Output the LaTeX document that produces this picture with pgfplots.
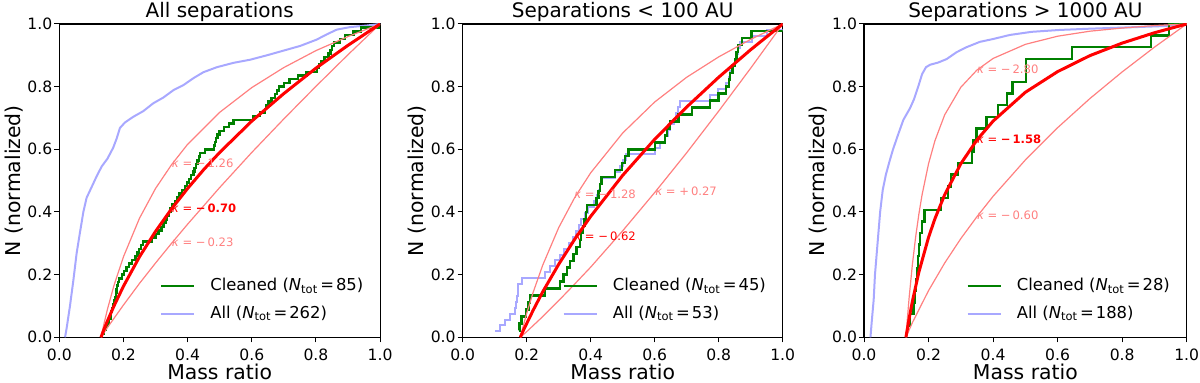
\documentclass[border=0pt]{standalone}
\usepackage{fontspec}
\setmainfont{DejaVu Sans}
\usepackage{pgfplots}
\pgfplotsset{compat=1.18}
\definecolor{mplgreen}{HTML}{008000}
\definecolor{allblue}{HTML}{A8A8FF}
\definecolor{lightred}{HTML}{FF8080}
\pgfplotsset{
  every axis title shift=0pt,
  panel/.style={
    height=156.65pt, scale only axis,
    xmin=0, xmax=1, ymin=0, ymax=1,
    xtick={0,0.2,0.4,0.6,0.8,1.0}, ytick={0,0.2,0.4,0.6,0.8,1.0},
    tick align=outside, tick pos=left,
    major tick length=2.5pt,
    tick style={black, line width=0.5pt},
    axis line style={black, line width=0.6pt},
    /pgf/number format/fixed, /pgf/number format/fixed zerofill,
    /pgf/number format/precision=1, /pgf/number format/assume math mode=true,
    ticklabel style={font=\fontsize{7.8}{9}\selectfont},
    yticklabel style={xshift=2.5pt},
    xlabel={Mass ratio}, ylabel={N (normalized)},
    label style={font=\fontsize{10.2}{12}\selectfont},
    xlabel style={at={(axis description cs:0.5,-0.111)}, anchor=center},
    ylabel style={at={(axis description cs:-0.141,0.5)}, anchor=center},
    title style={font=\fontsize{10}{12}\selectfont, at={(axis description cs:0.5,1.021)}, anchor=base, inner sep=0pt},
    legend style={at={(axis description cs:0.98,0.024)}, anchor=south east, draw=none, fill=none,
      font=\fontsize{8.2}{9.6}\selectfont, row sep=2pt, column sep=5.5pt},
    legend cell align=left,
    legend image code/.code={\draw[#1] (0pt,0pt) -- (16.5pt,0pt);},
  },
  greenline/.style={mplgreen, line width=1.2pt, const plot},
  blueline/.style={allblue, line width=1.0pt},
  fitline/.style={red, line width=1.5pt},
  errline/.style={lightred, line width=0.6pt},
}
\newcommand{\klab}[1]{\fontsize{5.8}{7}\selectfont{\itshape κ} = #1}
\newcommand{\ntot}[1]{{\itshape N}\textsubscript{tot}\kern1pt=\kern1pt#1}
\begin{document}
\begin{tikzpicture}
\path[use as bounding box] (-29.65pt,-22.85pt) rectangle (570.35pt,168.65pt);
% ---------------- Panel 1 ----------------
\begin{axis}[panel, width=160.4pt, at={(0pt,0pt)}, anchor=south west, title={All separations}]
\addlegendimage{mplgreen, line width=1.2pt}\addlegendentry{Cleaned (\ntot{85})}
\addlegendimage{allblue, line width=1.0pt}\addlegendentry{All (\ntot{262})}
\addplot[blueline, forget plot] coordinates {(0.018,0) (0.023,0.03) (0.033,0.098) (0.044,0.183) (0.054,0.268) (0.064,0.332) (0.075,0.40) (0.085,0.445) (0.101,0.480) (0.116,0.513) (0.132,0.545) (0.150,0.57) (0.168,0.605) (0.179,0.635) (0.189,0.668) (0.205,0.686) (0.231,0.704) (0.262,0.722) (0.293,0.747) (0.324,0.765) (0.356,0.789) (0.387,0.805) (0.418,0.827) (0.449,0.846) (0.491,0.862) (0.543,0.876) (0.595,0.886) (0.647,0.900) (0.699,0.915) (0.751,0.930) (0.802,0.950) (0.834,0.967) (0.865,0.982) (0.906,0.990) (0.958,0.995) (1,1)};
\addplot[greenline, forget plot] coordinates {(0.132,0.0118) (0.140,0.0235) (0.145,0.0353) (0.150,0.0471) (0.155,0.0588) (0.159,0.0706) (0.162,0.0824) (0.165,0.0941) (0.168,0.1059) (0.171,0.1176) (0.174,0.1294) (0.176,0.1412) (0.178,0.1529) (0.180,0.1647) (0.183,0.1765) (0.187,0.1882) (0.195,0.2) (0.202,0.2118) (0.209,0.2235) (0.217,0.2353) (0.226,0.2471) (0.237,0.2588) (0.244,0.2706) (0.249,0.2824) (0.255,0.2941) (0.260,0.3059) (0.287,0.3176) (0.300,0.3294) (0.309,0.3412) (0.319,0.3529) (0.325,0.3647) (0.331,0.3765) (0.336,0.3882) (0.342,0.4) (0.347,0.4118) (0.353,0.4235) (0.361,0.4353) (0.368,0.4471) (0.375,0.4588) (0.383,0.4706) (0.391,0.4824) (0.398,0.4941) (0.405,0.5059) (0.411,0.5176) (0.418,0.5294) (0.422,0.5412) (0.427,0.5529) (0.431,0.5647) (0.435,0.5765) (0.439,0.5882) (0.455,0.6) (0.482,0.6118) (0.485,0.6235) (0.489,0.6353) (0.493,0.6471) (0.500,0.6588) (0.514,0.6706) (0.529,0.6824) (0.543,0.6941) (0.603,0.7059) (0.625,0.7176) (0.641,0.7294) (0.645,0.7412) (0.652,0.7529) (0.662,0.7647) (0.672,0.7765) (0.678,0.7882) (0.685,0.8) (0.701,0.8118) (0.717,0.8235) (0.745,0.8353) (0.770,0.8471) (0.803,0.8588) (0.810,0.8706) (0.816,0.8824) (0.827,0.8941) (0.839,0.9059) (0.845,0.9176) (0.850,0.9294) (0.856,0.9412) (0.875,0.9529) (0.891,0.9647) (0.917,0.9765) (0.940,0.9882) (1.0,1.0)};
\addplot[errline, forget plot] coordinates {(0.13,0) (0.14,0.046) (0.15,0.089) (0.17,0.164) (0.2,0.257) (0.25,0.380) (0.3,0.475) (0.35,0.551) (0.4,0.616) (0.5,0.718) (0.6,0.797) (0.7,0.861) (0.8,0.915) (0.9,0.960) (1,1)};
\addplot[errline, forget plot] coordinates {(0.13,0) (0.15,0.031) (0.2,0.103) (0.25,0.172) (0.3,0.237) (0.35,0.300) (0.4,0.361) (0.5,0.478) (0.6,0.590) (0.7,0.697) (0.8,0.801) (0.9,0.902) (1,1)};
\addplot[fitline, forget plot] coordinates {(0.13,0) (0.14,0.027) (0.15,0.052) (0.17,0.099) (0.2,0.163) (0.25,0.257) (0.3,0.338) (0.35,0.410) (0.4,0.475) (0.45,0.535) (0.5,0.590) (0.6,0.690) (0.7,0.778) (0.8,0.859) (0.9,0.932) (1,1)};
\node[anchor=west, text=lightred, inner sep=0pt] at (axis cs:0.35,0.555) {\klab{−\,1.26}};
\node[anchor=west, text=red, inner sep=0pt] at (axis cs:0.35,0.412) {\klab{\bfseries −\,0.70}};
\node[anchor=west, text=lightred, inner sep=0pt] at (axis cs:0.35,0.302) {\klab{−\,0.23}};
\end{axis}
% ---------------- Panel 2 ----------------
\begin{axis}[panel, width=160pt, at={(201.7pt,0pt)}, anchor=south west, title={Separations < 100 AU}]
\addlegendimage{mplgreen, line width=1.2pt}\addlegendentry{Cleaned (\ntot{45})}
\addlegendimage{allblue, line width=1.0pt}\addlegendentry{All (\ntot{53})}
\addplot[blueline, const plot, forget plot] coordinates {(0.101,0.0189) (0.117,0.0377) (0.132,0.0566) (0.148,0.0755) (0.163,0.0943) (0.167,0.1132) (0.169,0.1321) (0.172,0.1509) (0.174,0.1698) (0.184,0.1887) (0.257,0.2075) (0.273,0.2264) (0.289,0.2453) (0.304,0.2642) (0.318,0.2830) (0.332,0.3019) (0.346,0.3208) (0.355,0.3396) (0.362,0.3585) (0.370,0.3774) (0.382,0.3962) (0.393,0.4151) (0.410,0.4340) (0.419,0.4528) (0.425,0.4717) (0.429,0.4906) (0.432,0.5094) (0.476,0.5283) (0.490,0.5472) (0.500,0.5660) (0.510,0.5849) (0.601,0.6038) (0.615,0.6226) (0.632,0.6415) (0.640,0.6604) (0.648,0.6792) (0.660,0.6981) (0.668,0.7170) (0.674,0.7358) (0.679,0.7547) (0.773,0.7736) (0.799,0.7925) (0.822,0.8113) (0.832,0.8302) (0.835,0.8491) (0.843,0.8679) (0.851,0.8868) (0.856,0.9057) (0.860,0.9245) (0.866,0.9434) (0.904,0.9623) (0.950,0.9811) (1.0,0.9811)};
\addplot[greenline, forget plot] coordinates {(0.177,0.0222) (0.178,0.0444) (0.184,0.0667) (0.198,0.0889) (0.205,0.1111) (0.211,0.1333) (0.257,0.1556) (0.304,0.1778) (0.3145,0.2) (0.325,0.2222) (0.335,0.2444) (0.346,0.2667) (0.356,0.2889) (0.367,0.3111) (0.370,0.3333) (0.375,0.3556) (0.381,0.3778) (0.386,0.4) (0.388,0.4222) (0.418,0.4444) (0.424,0.4667) (0.429,0.4889) (0.434,0.5111) (0.476,0.5333) (0.497,0.5556) (0.507,0.5778) (0.518,0.6) (0.601,0.6222) (0.632,0.6444) (0.638,0.6667) (0.648,0.6889) (0.674,0.7111) (0.716,0.7333) (0.773,0.7556) (0.799,0.7778) (0.822,0.8) (0.832,0.8222) (0.835,0.8444) (0.843,0.8667) (0.851,0.8889) (0.856,0.9111) (0.860,0.9333) (0.872,0.9556) (0.903,0.9778) (1.0,0.9778)};
\addplot[errline, forget plot] coordinates {(0.18,0) (0.19,0.039) (0.2,0.076) (0.22,0.143) (0.25,0.230) (0.3,0.350) (0.35,0.446) (0.4,0.525) (0.5,0.652) (0.6,0.751) (0.7,0.830) (0.8,0.895) (0.9,0.951) (1,1)};
\addplot[errline, forget plot] coordinates {(0.18,0) (0.2,0.018) (0.25,0.066) (0.3,0.117) (0.35,0.170) (0.4,0.224) (0.5,0.340) (0.6,0.462) (0.7,0.589) (0.8,0.722) (0.9,0.859) (1,1)};
\addplot[fitline, forget plot] coordinates {(0.18,0) (0.19,0.023) (0.2,0.044) (0.22,0.086) (0.25,0.145) (0.3,0.233) (0.35,0.313) (0.4,0.386) (0.5,0.517) (0.6,0.632) (0.7,0.735) (0.8,0.830) (0.9,0.918) (1,1)};
\node[anchor=west, text=lightred, inner sep=0pt] at (axis cs:0.348,0.456) {\klab{−\,1.28}};
\node[anchor=west, text=red, inner sep=0pt] at (axis cs:0.348,0.321) {\klab{−\,0.62}};
\node[anchor=west, text=lightred, inner sep=0pt] at (axis cs:0.601,0.465) {\klab{+\,0.27}};
\end{axis}
% ---------------- Panel 3 ----------------
\begin{axis}[panel, width=161.35pt, at={(402.35pt,0pt)}, anchor=south west, title={Separations > 1000 AU}]
\addlegendimage{mplgreen, line width=1.2pt}\addlegendentry{Cleaned (\ntot{28})}
\addlegendimage{allblue, line width=1.0pt}\addlegendentry{All (\ntot{188})}
\addplot[blueline, forget plot] coordinates {(0.020,0) (0.024,0.05) (0.030,0.12) (0.034,0.2) (0.042,0.30) (0.050,0.40) (0.058,0.47) (0.068,0.52) (0.080,0.565) (0.090,0.60) (0.105,0.645) (0.122,0.694) (0.1425,0.731) (0.155,0.76) (0.168,0.80) (0.180,0.84) (0.192,0.862) (0.205,0.870) (0.230,0.877) (0.256,0.888) (0.287,0.910) (0.318,0.926) (0.359,0.943) (0.40,0.952) (0.452,0.965) (0.52,0.975) (0.607,0.981) (0.70,0.985) (0.814,0.989) (0.946,0.994) (1.0,1.0)};
\addplot[greenline, forget plot] coordinates {(0.134,0.037) (0.1425,0.074) (0.153,0.111) (0.158,0.148) (0.161,0.185) (0.165,0.222) (0.168,0.259) (0.171,0.296) (0.174,0.333) (0.180,0.370) (0.187,0.407) (0.238,0.444) (0.261,0.481) (0.269,0.519) (0.292,0.556) (0.334,0.593) (0.339,0.630) (0.349,0.667) (0.380,0.704) (0.416,0.741) (0.444,0.778) (0.460,0.815) (0.502,0.889) (0.644,0.926) (0.889,0.963) (0.946,1.0) (1.0,1.0)};
\addplot[errline, forget plot] coordinates {(0.13,0) (0.135,0.067) (0.14,0.128) (0.15,0.233) (0.16,0.320) (0.17,0.393) (0.18,0.455) (0.2,0.554) (0.22,0.628) (0.25,0.710) (0.3,0.798) (0.35,0.853) (0.4,0.890) (0.5,0.935) (0.6,0.961) (0.7,0.977) (0.8,0.987) (0.9,0.995) (1,1)};
\addplot[errline, forget plot] coordinates {(0.13,0) (0.15,0.047) (0.2,0.149) (0.25,0.237) (0.3,0.315) (0.35,0.385) (0.4,0.450) (0.5,0.566) (0.6,0.669) (0.7,0.762) (0.8,0.847) (0.9,0.926) (1,1)};
\addplot[fitline, forget plot] coordinates {(0.13,0) (0.14,0.061) (0.15,0.115) (0.17,0.208) (0.2,0.319) (0.22,0.379) (0.25,0.455) (0.3,0.554) (0.35,0.630) (0.4,0.690) (0.5,0.782) (0.6,0.848) (0.7,0.899) (0.8,0.939) (0.9,0.972) (1,1)};
\node[anchor=west, text=lightred, inner sep=0pt] at (axis cs:0.349,0.855) {\klab{−\,2.80}};
\node[anchor=west, text=red, inner sep=0pt] at (axis cs:0.349,0.632) {\klab{\bfseries −\,1.58}};
\node[anchor=west, text=lightred, inner sep=0pt] at (axis cs:0.349,0.388) {\klab{−\,0.60}};
\end{axis}
\end{tikzpicture}
\end{document}
